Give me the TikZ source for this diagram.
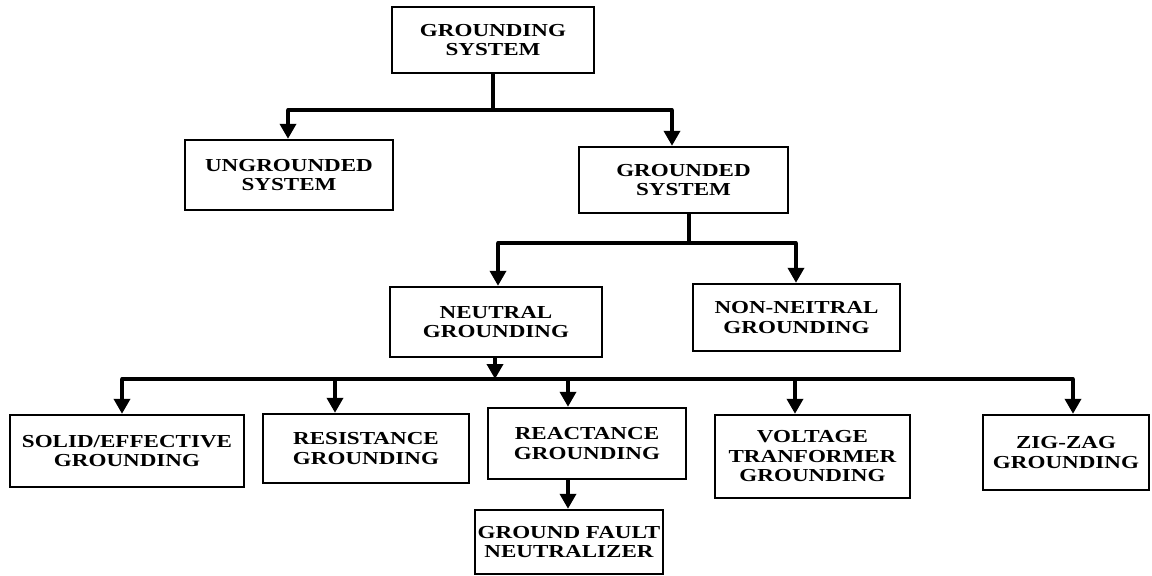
\documentclass[tikz,border=0pt]{standalone}
\usepackage{fontspec}
\newfontfamily\lblfont{Liberation Serif}[FakeStretch=1.26]
\usetikzlibrary{arrows.meta}
\begin{document}
\begin{tikzpicture}[x=1pt,y=-1pt,
  box/.style={draw=black, line width=2.4pt, fill=white, align=center, inner sep=0pt,
    font=\lblfont\bfseries\fontsize{18.3}{19.5}\selectfont},
  conn/.style={line width=3.6pt, draw=black},
  arr/.style={conn, -{Triangle[width=16pt,length=15pt]}}]
\useasboundingbox (0,0) rectangle (1152,576);
\fill[white] (0,0) rectangle (1152,576);
% boxes
\node[box, minimum width=202pt, minimum height=66pt] (gs)  at (493,40)    {GROUNDING\\SYSTEM};
\node[box, minimum width=208pt, minimum height=70pt] (ung) at (289,175)   {UNGROUNDED\\SYSTEM};
\node[box, minimum width=209pt, minimum height=66pt] (grd) at (683.5,180) {GROUNDED\\SYSTEM};
\node[box, minimum width=212pt, minimum height=70pt] (neu) at (496,322)   {NEUTRAL\\GROUNDING};
\node[box, minimum width=207pt, minimum height=67pt] (non) at (796.5,317.5) {NON-NEITRAL\\GROUNDING};
\node[box, minimum width=234pt, minimum height=72pt] (sol) at (127,451)   {SOLID/EFFECTIVE\\GROUNDING};
\node[box, minimum width=206pt, minimum height=69pt] (res) at (366,448.5) {RESISTANCE\\GROUNDING};
\node[box, minimum width=198pt, minimum height=71pt] (rea) at (587,443.5) {REACTANCE\\GROUNDING};
\node[box, minimum width=195pt, minimum height=83pt] (vol) at (812.5,456.5) {VOLTAGE\\TRANFORMER\\GROUNDING};
\node[box, minimum width=166pt, minimum height=75pt] (zig) at (1066,452.5) {ZIG-ZAG\\GROUNDING};
\node[box, minimum width=188pt, minimum height=64pt] (gfn) at (569,542)   {GROUND FAULT\\NEUTRALIZER};
% bus coordinates
\coordinate (b1)  at (493,110);
\coordinate (b1l) at (288,110);
\coordinate (b1r) at (672,110);
\coordinate (b2)  at (689,243);
\coordinate (b2l) at (498,243);
\coordinate (b2r) at (796,243);
\coordinate (b3)  at (495,379);
\coordinate (b3a) at (122,379);
\coordinate (b3b) at (335,379);
\coordinate (b3c) at (568,379);
\coordinate (b3d) at (795,379);
\coordinate (b3e) at (1073,379);
% level 1
\draw[conn] (gs.south) -- (b1);
\draw[conn, line cap=round] (b1l) -- (b1r);
\draw[arr] (b1l) -- (b1l |- ung.north);
\draw[arr] (b1r) -- (b1r |- grd.north);
% level 2
\draw[conn] (grd.south -| b2) -- (b2);
\draw[conn, line cap=round] (b2l) -- (b2r);
\draw[arr] (b2l) -- (b2l |- neu.north);
\draw[arr] (b2r) -- (b2r |- non.north);
% level 3
\draw[arr] (neu.south -| b3) -- (b3);
\draw[conn, line cap=round] (b3a) -- (b3e);
\draw[arr] (b3a) -- (b3a |- sol.north);
\draw[arr] (b3b) -- (b3b |- res.north);
\draw[arr] (b3c) -- (b3c |- rea.north);
\draw[arr] (b3d) -- (b3d |- vol.north);
\draw[arr] (b3e) -- (b3e |- zig.north);
% level 4
\draw[arr] (rea.south -| b3c) -- (b3c |- gfn.north);
\end{tikzpicture}
\end{document}
